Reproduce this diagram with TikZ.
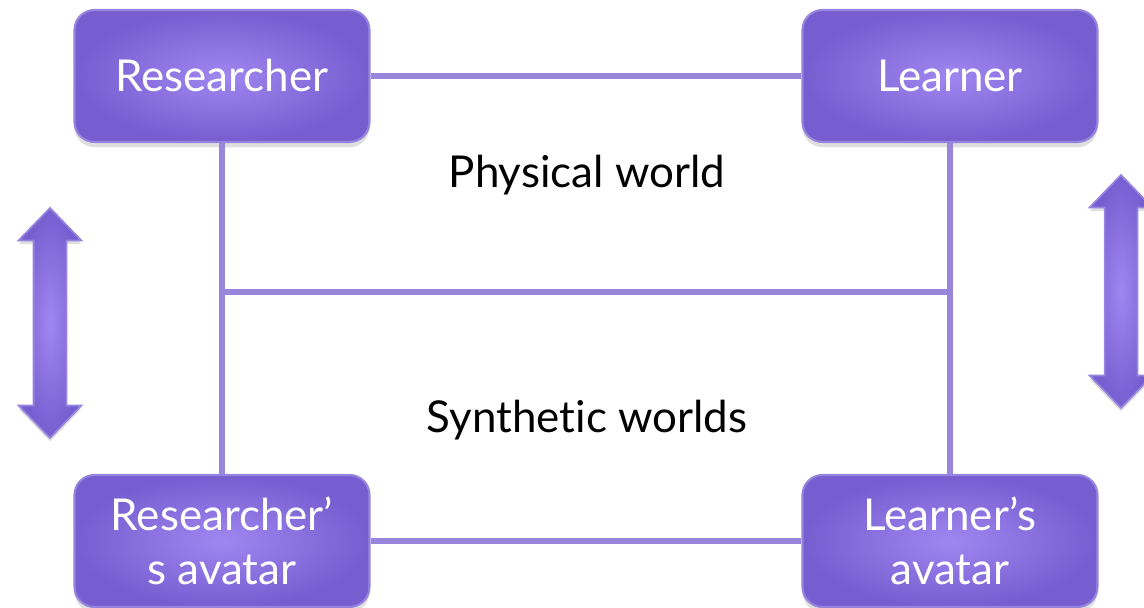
\documentclass[tikz,border=0pt]{standalone}
\usepackage{fontspec}
\setmainfont[Ligatures={NoCommon}]{Lato}
\usetikzlibrary{shapes.arrows,shadows}
\definecolor{boxin}{RGB}{160,134,240}
\definecolor{boxout}{RGB}{118,94,208}
\definecolor{boxrim}{RGB}{150,132,222}
\definecolor{linkcol}{RGB}{152,134,220}
\tikzset{rolenode/.style={rounded corners=0.4cm,draw=boxrim,line width=1.2pt,inner color=boxin,outer color=boxout,minimum width=5.9cm,minimum height=2.64cm,text=white,align=center,font=\fontsize{25}{31}\selectfont,drop shadow={shadow xshift=0pt,shadow yshift=-3pt,opacity=0.25}}}
\tikzset{link/.style={draw=linkcol,line width=3pt}}
\tikzset{worldnode/.style={font=\fontsize{25}{30}\selectfont}}
\tikzset{movenode/.style={double arrow,rotate=90,draw=boxrim,line width=1pt,inner color=boxin,outer color=boxout,inner sep=0.31cm,double arrow head extend=0.3cm,double arrow tip angle=88,drop shadow={shadow xshift=0pt,shadow yshift=-2pt,opacity=0.25}}}

\begin{document}
\begin{tikzpicture}
\useasboundingbox (0,0) rectangle (22.88,12.16);

% nodes
\node [style = rolenode] (res) at (4.44,10.64) {Researcher};
\node [style = rolenode] (lea) at (19.0,10.64) {Learner};
\node [style = rolenode] (resav) at (4.44,1.34) {Researcher'\\s avatar};
\node [style = rolenode] (leaav) at (19.0,1.34) {Learner's\\avatar};

\node [style = worldnode] (phys) at (11.74,8.66) {Physical world};
\node [style = worldnode] (synt) at (11.74,3.76) {Synthetic worlds};

\node [style = movenode, minimum height=4.6cm] (upl) at (1.0,5.7) {};
\node [style = movenode, minimum height=4.66cm] (upr) at (22.42,6.33) {};

\coordinate (ml) at (4.44,6.32);
\coordinate (mr) at (19.0,6.32);

%  edges
\draw [link] (res) to (lea);
\draw [link] (res) to (resav);
\draw [link] (lea) to (leaav);
\draw [link] (resav) to (leaav);
\draw [link] (ml) to (mr);
\end{tikzpicture}
\end{document}
